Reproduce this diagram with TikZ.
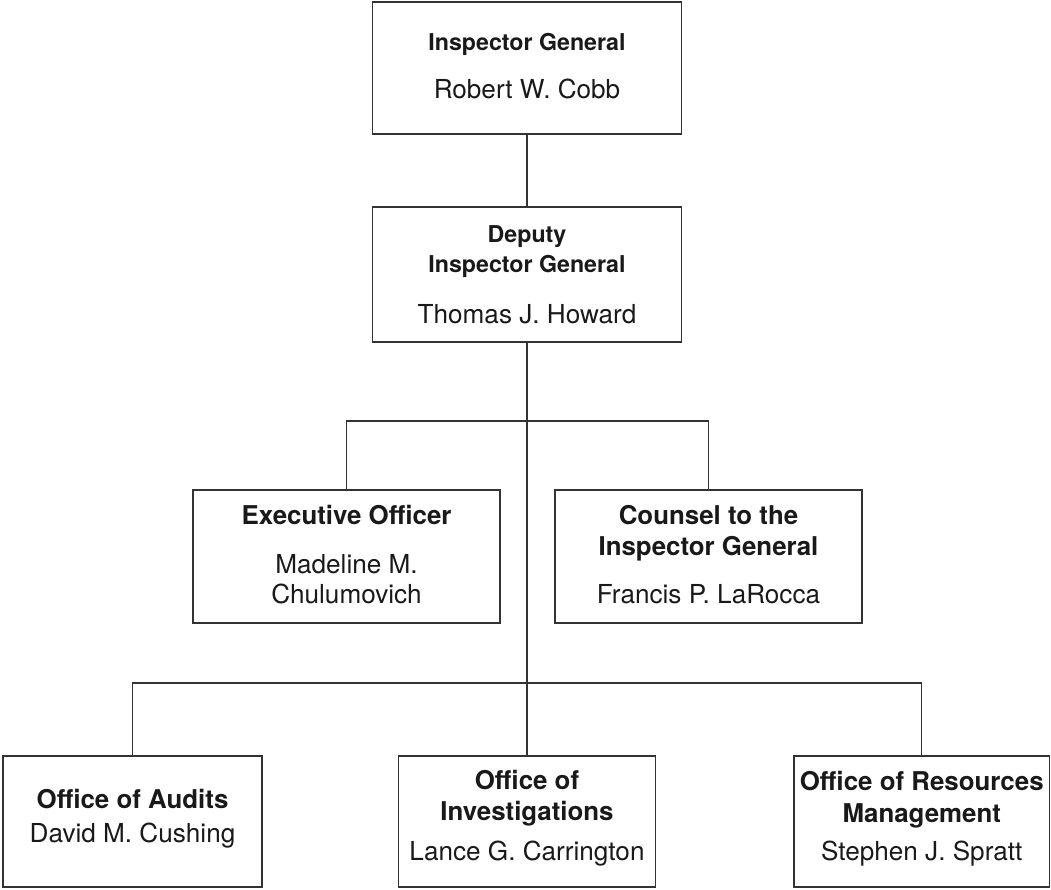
\documentclass[tikz,border=0pt]{standalone}
\usepackage{fontspec}
\setmainfont{TeX Gyre Heros}
\begin{document}
\begin{tikzpicture}[x=0.75pt,y=-0.75pt,
  box/.style={draw=black!80, line width=0.8pt, rectangle, inner sep=0pt},
  link/.style={draw=black!80, line width=0.8pt},
  ttl/.style={anchor=base, text=black!90, font=\bfseries\fontsize{17.4}{20}\selectfont},
  ttlb/.style={anchor=base, text=black!90, font=\bfseries\fontsize{19.4}{23}\selectfont},
  nm/.style={anchor=base, text=black!90, font=\fontsize{19.6}{23}\selectfont}]
\useasboundingbox (0,0) rectangle (1051,890);

% boxes
\node[box, minimum width=231.75pt, minimum height=99pt]    (ig)   at (527,68) {};
\node[box, minimum width=231.75pt, minimum height=101.25pt] (dep)  at (527,274.5) {};
\node[box, minimum width=230.25pt, minimum height=99.75pt] (exec) at (346.5,556.5) {};
\node[box, minimum width=230.25pt, minimum height=99.75pt] (coun) at (708.5,556.5) {};
\node[box, minimum width=194.25pt, minimum height=98.25pt] (aud)  at (132.5,821.5) {};
\node[box, minimum width=192.75pt, minimum height=98.25pt] (inv)  at (527,821.5) {};
\node[box, minimum width=191.6pt,  minimum height=98.25pt] (res)  at (921.75,821.5) {};

% texts
\node[ttl] (igT) at (527,50) {Inspector General};
\node[nm]  (igN) at (527,98) {Robert W. Cobb};

\node[ttl] (depT1) at (527,242) {Deputy};
\node[ttl] (depT2) at (527,272) {Inspector General};
\node[nm]  (depN)  at (527,323) {Thomas J. Howard};

\node[ttlb] (exT)  at (346.5,524) {Executive Officer};
\node[nm]   (exN1) at (346.5,573) {Madeline M.};
\node[nm]   (exN2) at (346.5,603) {Chulumovich};

\node[ttlb] (coT1) at (708.5,524) {Counsel to the};
\node[ttlb] (coT2) at (708.5,555) {Inspector General};
\node[nm]   (coN)  at (708.5,603) {Francis P. LaRocca};

\node[ttlb] (auT) at (132.5,808) {Office of Audits};
\node[nm]   (auN) at (132.5,842) {David M. Cushing};

\node[ttlb] (inT1) at (527,789) {Office of};
\node[ttlb] (inT2) at (527,820) {Investigations};
\node[nm]   (inN)  at (527,860) {Lance G. Carrington};

\node[ttlb] (reT1) at (921.75,790) {Office of Resources};
\node[ttlb] (reT2) at (921.75,822) {Management};
\node[nm]   (reN)  at (921.75,860) {Stephen J. Spratt};

% connectors
\coordinate (b1) at (527,421);
\coordinate (b2) at (527,683);
\draw[link] (ig.south) -- (dep.north);
\draw[link] (dep.south) -- (inv.north);
\draw[link] (exec.north) |- (b1) -| (coun.north);
\draw[link] (aud.north) |- (b2) -| (res.north);
\end{tikzpicture}
\end{document}
